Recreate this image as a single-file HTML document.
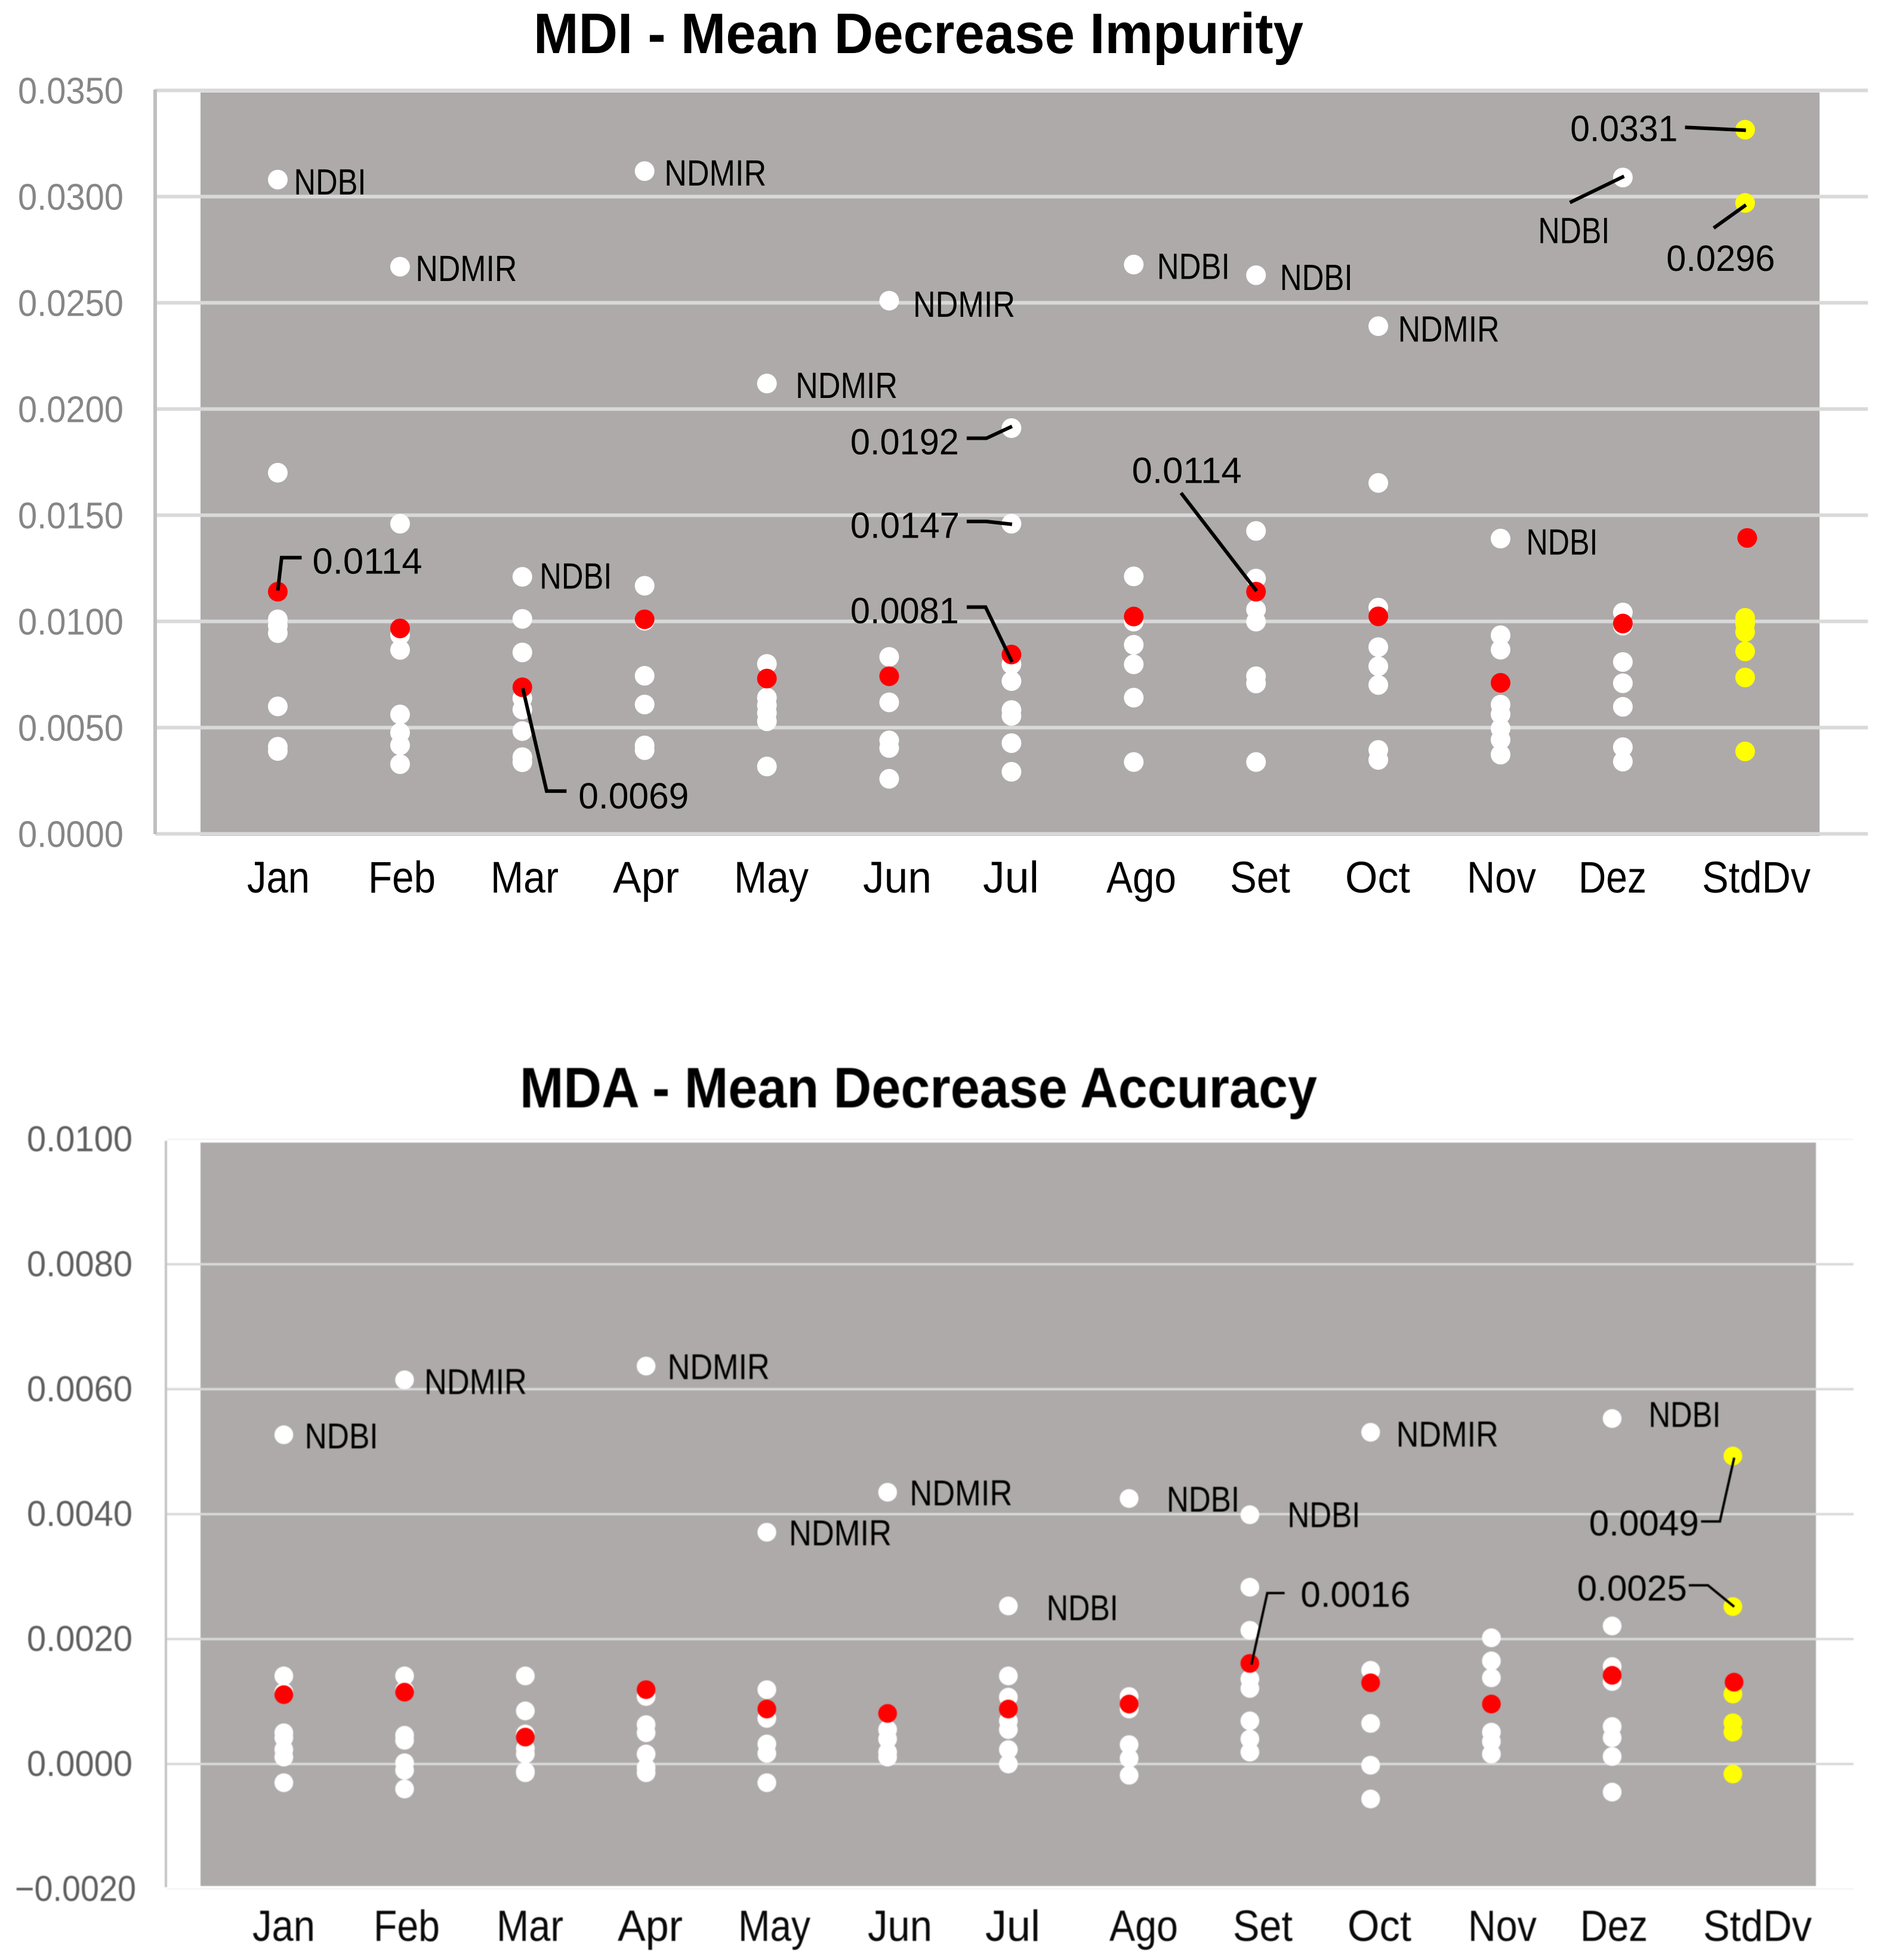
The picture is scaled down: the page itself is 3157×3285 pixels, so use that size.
<!DOCTYPE html>
<html lang="en">
<head>
<meta charset="utf-8">
<title>MDI and MDA charts</title>
<style>
html,body{margin:0;padding:0;background:#fff;}
svg{display:block;}
text{font-family:"Liberation Sans",sans-serif;}
.cat{fill:#000;font-size:74px;}
.cat2{fill:#0a0a0a;font-size:73px;}
.title{fill:#000;font-size:96px;font-weight:bold;}
#mda-layer{filter:blur(0.7px);}
</style>
</head>
<body>
<svg id="root" xmlns="http://www.w3.org/2000/svg" width="3157" height="3285" viewBox="0 0 3157 3285">
  <rect x="0" y="0" width="3157" height="3285" fill="#ffffff"/>
  <g id="mdi-layer">
    <rect x="336" y="155" width="2713" height="1246" fill="#aeaaaa"/>
    <text class="title" x="894" y="89" textLength="1290" lengthAdjust="spacingAndGlyphs" xml:space="preserve">MDI - Mean Decrease Impurity</text>
    <g id="mdi-grid"></g>
    <rect x="257" y="150" width="6" height="1248" fill="#bfbfbf"/>
    <g id="mdi-ticks"></g>
    <g>
      <text class="cat" x="414" y="1496" textLength="105" lengthAdjust="spacingAndGlyphs">Jan</text>
      <text class="cat" x="617" y="1496" textLength="113" lengthAdjust="spacingAndGlyphs">Feb</text>
      <text class="cat" x="822" y="1496" textLength="114" lengthAdjust="spacingAndGlyphs">Mar</text>
      <text class="cat" x="1027" y="1496" textLength="111" lengthAdjust="spacingAndGlyphs">Apr</text>
      <text class="cat" x="1230" y="1496" textLength="125" lengthAdjust="spacingAndGlyphs">May</text>
      <text class="cat" x="1446" y="1496" textLength="115" lengthAdjust="spacingAndGlyphs">Jun</text>
      <text class="cat" x="1647" y="1496" textLength="94" lengthAdjust="spacingAndGlyphs">Jul</text>
      <text class="cat" x="1854" y="1496" textLength="117" lengthAdjust="spacingAndGlyphs">Ago</text>
      <text class="cat" x="2061" y="1496" textLength="101" lengthAdjust="spacingAndGlyphs">Set</text>
      <text class="cat" x="2254" y="1496" textLength="109" lengthAdjust="spacingAndGlyphs">Oct</text>
      <text class="cat" x="2458" y="1496" textLength="116" lengthAdjust="spacingAndGlyphs">Nov</text>
      <text class="cat" x="2645" y="1496" textLength="114" lengthAdjust="spacingAndGlyphs">Dez</text>
      <text class="cat" x="2852" y="1496" textLength="182" lengthAdjust="spacingAndGlyphs">StdDv</text>
    </g>
    <g id="mdi-points"></g>
    <g id="mdi-notes"></g>
  </g>
  <g id="mda-layer">
    <rect x="336" y="1915" width="2707" height="1246" fill="#aeaaaa"/>
    <text class="title" x="871" y="1856" textLength="1336" lengthAdjust="spacingAndGlyphs" xml:space="preserve">MDA - Mean Decrease Accuracy</text>
    <g id="mda-grid"></g>
    <rect x="276" y="1912" width="4" height="1251" fill="#c4c4c4"/>
    <g id="mda-ticks"></g>
    <g>
      <text class="cat2" x="423" y="3253" textLength="105" lengthAdjust="spacingAndGlyphs">Jan</text>
      <text class="cat2" x="626" y="3253" textLength="111" lengthAdjust="spacingAndGlyphs">Feb</text>
      <text class="cat2" x="832" y="3253" textLength="112" lengthAdjust="spacingAndGlyphs">Mar</text>
      <text class="cat2" x="1035" y="3253" textLength="109" lengthAdjust="spacingAndGlyphs">Apr</text>
      <text class="cat2" x="1237" y="3253" textLength="121" lengthAdjust="spacingAndGlyphs">May</text>
      <text class="cat2" x="1454" y="3253" textLength="108" lengthAdjust="spacingAndGlyphs">Jun</text>
      <text class="cat2" x="1651" y="3253" textLength="92" lengthAdjust="spacingAndGlyphs">Jul</text>
      <text class="cat2" x="1859" y="3253" textLength="115" lengthAdjust="spacingAndGlyphs">Ago</text>
      <text class="cat2" x="2066" y="3253" textLength="100" lengthAdjust="spacingAndGlyphs">Set</text>
      <text class="cat2" x="2258" y="3253" textLength="107" lengthAdjust="spacingAndGlyphs">Oct</text>
      <text class="cat2" x="2460" y="3253" textLength="115" lengthAdjust="spacingAndGlyphs">Nov</text>
      <text class="cat2" x="2648" y="3253" textLength="113" lengthAdjust="spacingAndGlyphs">Dez</text>
      <text class="cat2" x="2854" y="3253" textLength="182" lengthAdjust="spacingAndGlyphs">StdDv</text>
    </g>
    <g id="mda-points"></g>
    <g id="mda-notes"></g>
  </g>
</svg>
<script>
const categories = ["Jan","Feb","Mar","Apr","May","Jun","Jul","Ago","Set","Oct","Nov","Dez","StdDv"];

const mdiTickValues = [0, 0.005, 0.01, 0.015, 0.02, 0.025, 0.03, 0.035];
const mdiWhite = [
  [0.0308,0.0170,0.0101,0.0098,0.00945,0.0060,0.0041,0.0039],
  [0.0267,0.0146,0.00936,0.00866,0.00562,0.00476,0.00417,0.00328],
  [0.0121,0.01012,0.00854,0.00638,0.00585,0.00484,0.00361,0.00337],
  [0.0312,0.01168,0.01003,0.00744,0.00609,0.00416,0.00394],
  [0.0212,0.0080,0.00641,0.00605,0.00569,0.0053,0.00317],
  [0.0251,0.00833,0.00619,0.0044,0.00404,0.00259],
  [0.0191,0.0146,0.00798,0.00719,0.00583,0.00555,0.00427,0.00292],
  [0.0268,0.01212,0.00999,0.0089,0.00798,0.00641,0.00338],
  [0.0263,0.01426,0.01202,0.01056,0.00999,0.00742,0.00708,0.00338],
  [0.0239,0.01652,0.01065,0.00879,0.00789,0.00701,0.00395,0.00348],
  [0.0139,0.00935,0.00867,0.00608,0.00563,0.00496,0.00443,0.00373],
  [0.0309,0.01042,0.0098,0.00809,0.00709,0.00598,0.00408,0.0034],
  []
];
const mdiRed = [0.0114,0.00967,0.0069,0.0101,0.00731,0.00742,0.00844,0.01023,0.0114,0.01024,0.00711,0.0099,0.01393];
const mdiYellow = [0.03315,0.0297,0.01017,0.0099,0.0095,0.00859,0.00736,0.00388];

const mdaTickValues = [-0.002, 0, 0.002, 0.004, 0.006, 0.008, 0.01];
const mdaWhite = [
  [0.00527,0.00141,0.00115,0.0005,0.00042,0.00023,0.00011,-0.0003],
  [0.00615,0.00141,0.00118,0.00046,0.00038,0.00002,-0.0001,-0.0004],
  [0.00141,0.00085,0.00048,0.00025,0.00016,-0.00012,-0.00014],
  [0.00637,0.00108,0.00063,0.0005,0.00016,-0.00006,-0.00014],
  [0.00371,0.00119,0.00073,0.00032,0.00017,-0.0003],
  [0.00435,0.00055,0.0004,0.00019,0.00011],
  [0.00253,0.00141,0.00107,0.00069,0.00055,0.00023,0],
  [0.00425,0.00108,0.00088,0.00031,0.00009,-0.00018],
  [0.00399,0.00283,0.00214,0.00136,0.00121,0.00069,0.0004,0.00019],
  [0.00531,0.0015,0.00065,-0.00002,-0.00056],
  [0.00202,0.00165,0.00138,0.00051,0.00036,0.00016],
  [0.00553,0.00221,0.00156,0.00132,0.0006,0.00042,0.00012,-0.00045],
  []
];
const mdaRed = [0.00111,0.00115,0.00043,0.00119,0.00088,0.00081,0.00088,0.00096,0.00161,0.0013,0.00096,0.00142,0.00131];
const mdaYellow = [0.00493,0.00252,0.00112,0.00066,0.00051,-0.00016];

const NS = "http://www.w3.org/2000/svg";

function mdiX(i){ return 465.5 + i * 204.9; }
function mdiY(v){ return 1397.5 - v * 35600; }
function mdaX(i){ return 475.6 + i * 202.35; }
function mdaY(v){ return 2956.5 - v * 104700; }

function make(tag, parent, props){
  const el = document.createElementNS(NS, tag);
  for (const k in props) el.setAttribute(k, props[k]);
  parent.appendChild(el);
  return el;
}

function drawGrid(prefix, ticks, yFn, x1, x2, thick, isFaint){
  const g = document.getElementById(prefix + "-grid");
  ticks.forEach(function(t){
    const line = make("line", g, {x1:x1, x2:x2, y1:yFn(t), y2:yFn(t), stroke:isFaint(t) ? "#f1f1f1" : "#d9d9d9", "stroke-width":isFaint(t) ? 2 : thick});
    
    
  });
}

function drawTicks(prefix, ticks, yFn, color, dy, rightX, size){
  const g = document.getElementById(prefix + "-ticks");
  ticks.forEach(function(t){
    const neg = t < 0;
    const str = (neg ? "\u2212" : "") + Math.abs(t).toFixed(4);
    const w = neg ? 203 : 177;
    const right = neg ? rightX + 6 : rightX;
    const el = make("text", g, {x:right - w, y:yFn(t) + dy, fill:color, "font-size":size, textLength:w, lengthAdjust:"spacingAndGlyphs"});
    el.textContent = str;
    
    
  });
}

function drawDots(prefix, xFn, yFn, r, whites, yellows, reds, redShift){
  const g = document.getElementById(prefix + "-points");
  whites.forEach(function(list, i){
    list.forEach(function(v){
      const c = make("circle", g, {cx:xFn(i), cy:yFn(v), r:r, fill:"#ffffff"});
      
      
    });
  });
  yellows.forEach(function(v){
    const c = make("circle", g, {cx:xFn(12), cy:yFn(v), r:r, fill:"#ffff00"});
    
    
  });
  reds.forEach(function(v, i){
    const c = make("circle", g, {cx:xFn(i) + (i === 12 ? redShift : 0), cy:yFn(v), r:r, fill:"#ff0000"});
    
    
  });
}

function note(prefix, xFn, yFn, i, v, str, dx, dy, w, size, strokeW, pts){
  const g = document.getElementById(prefix + "-notes");
  const cx = xFn(i), cy = yFn(v);
  if (pts) {
    const p = pts.map(function(q){ return (cx + q[0]) + "," + (cy + q[1]); }).join(" ");
    const line = make("polyline", g, {points:p, fill:"none", stroke:"#000", "stroke-width":strokeW, "stroke-linejoin":"miter"});
    
    
  }
  const t = make("text", g, {x:cx + dx, y:cy + dy, fill:"#000", "font-size":size, textLength:w, lengthAdjust:"spacingAndGlyphs"});
  t.textContent = str;
  
  
}

drawGrid("mdi", mdiTickValues, mdiY, 260, 3130, 6, function(){ return false; });
drawTicks("mdi", mdiTickValues, mdiY, "#868686", 22, 207, 62);
drawDots("mdi", mdiX, mdiY, 16.5, mdiWhite, mdiYellow, mdiRed, 3.5);

function a(i, v, str, dx, dy, w, pts){ note("mdi", mdiX, mdiY, i, v, str, dx, dy, w, 61, 6, pts); }
a(0, mdiWhite[0][0], "NDBI", 27, 25, 121);
a(1, mdiWhite[1][0], "NDMIR", 26, 24, 170);
a(2, mdiWhite[2][0], "NDBI", 29, 20, 121);
a(3, mdiWhite[3][0], "NDMIR", 33, 24, 171);
a(4, mdiWhite[4][0], "NDMIR", 48, 24, 171);
a(5, mdiWhite[5][0], "NDMIR", 40, 27, 171);
a(7, mdiWhite[7][0], "NDBI", 39, 24, 122);
a(8, mdiWhite[8][0], "NDBI", 40, 25, 122);
a(9, mdiWhite[9][0], "NDMIR", 33, 26, 170);
a(10, mdiWhite[10][0], "NDBI", 43, 27, 120);
a(11, mdiWhite[11][0], "NDBI", -142, 110, 120, [[-88.8,42],[2,-2]]);
a(0, mdiRed[0], "0.0114", 58, -30, 184, [[40,-57],[6.4,-57],[0,-2]]);
a(2, mdiRed[2], "0.0069", 94, 203, 185, [[74,174],[40.7,174],[0.7,1.6]]);
a(6, mdiWhite[6][0], "0.0192", -270, 44, 182, [[-75,17],[-42,17],[1,-3]]);
a(6, mdiWhite[6][1], "0.0147", -270, 24, 183, [[-75,-3.7],[-42,-3.7],[1,1]]);
a(6, mdiRed[6], "0.0081", -270, -52.5, 182, [[-75,-79.5],[-43.4,-79.5],[1,12.5]]);
a(8, mdiRed[8], "0.0114", -208, -182, 184, [[-125.7,-165.5],[1,-1]]);
a(12, mdiYellow[0], "0.0331", -293, 19, 180, [[-100.7,-4],[1.3,1]]);
a(12, mdiYellow[1], "0.0296", -132, 114, 182, [[-52.7,42],[1.3,3.3]]);

drawGrid("mda", mdaTickValues, mdaY, 280, 3106, 4, function(t){ return t === 0.01 || t === -0.002; });
drawTicks("mda", mdaTickValues, mdaY, "#5f5f5f", 20, 222, 60);
drawDots("mda", mdaX, mdaY, 15.7, mdaWhite, mdaYellow, mdaRed, 2);

function b(i, v, str, dx, dy, w, pts){ note("mda", mdaX, mdaY, i, v, str, dx, dy, w, 60, 4, pts); }
b(0, mdaWhite[0][0], "NDBI", 35, 23, 123);
b(1, mdaWhite[1][0], "NDMIR", 33, 24, 172);
b(3, mdaWhite[3][0], "NDMIR", 36, 22, 171);
b(4, mdaWhite[4][0], "NDMIR", 37, 22, 172);
b(5, mdaWhite[5][0], "NDMIR", 37, 22, 172);
b(6, mdaWhite[6][0], "NDBI", 64, 24, 120);
b(7, mdaWhite[7][0], "NDBI", 63, 22, 122);
b(8, mdaWhite[8][0], "NDBI", 63, 21, 122);
b(9, mdaWhite[9][0], "NDMIR", 43, 24, 171);
b(11, mdaWhite[11][0], "NDBI", 61, 14, 121);
b(8, mdaRed[8], "0.0016", 85, -95, 184, [[58.2,-117.9],[29.2,-117.9],[2.6,2]]);
b(12, mdaYellow[0], "0.0049", -241, 133, 184, [[-53.3,109.7],[-21.8,109.7],[2.2,2.7]]);
b(12, mdaYellow[1], "0.0025", -261, -10, 184, [[-73.8,-35.7],[-41.8,-35.7],[2.2,0.3]]);
</script>
</body>
</html>
